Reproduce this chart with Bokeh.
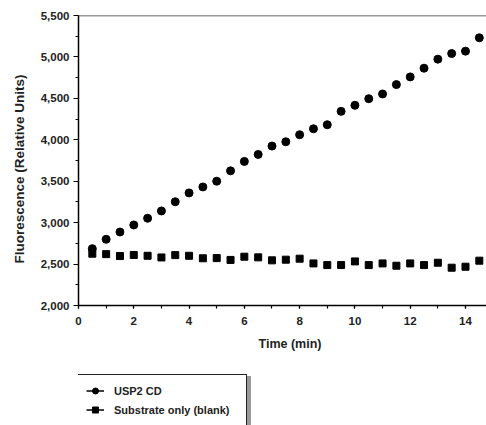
from bokeh.plotting import figure
from bokeh.models import (Legend, LegendItem, NumeralTickFormatter, SingleIntervalTicker,
                          Span, ColumnDataSource, Range1d, Title)
from bokeh.layouts import column
from bokeh.embed import file_html
from bokeh.resources import INLINE

# Data
time_min = [0.5, 1, 1.5, 2, 2.5, 3, 3.5, 4, 4.5, 5, 5.5, 6, 6.5, 7, 7.5, 8, 8.5, 9, 9.5,
            10, 10.5, 11, 11.5, 12, 12.5, 13, 13.5, 14, 14.5]
usp2_cd = [2686, 2799, 2887, 2972, 3053, 3141, 3252, 3359, 3431, 3500, 3625, 3739, 3823,
           3924, 3976, 4061, 4133, 4182, 4343, 4416, 4496, 4553, 4666, 4759, 4864, 4973,
           5041, 5070, 5231]
blank = [2625, 2620, 2597, 2610, 2600, 2580, 2608, 2600, 2570, 2572, 2550, 2589, 2581,
         2545, 2553, 2565, 2508, 2488, 2488, 2532, 2488, 2508, 2480, 2508, 2488, 2516,
         2456, 2468, 2541]
series_names = ["USP2 CD", "Substrate only (blank)"]
x_label = "Time (min)"
y_label = "Fluorescence (Relative Units)"

FONT = "Liberation Sans"
TXT = "#222222"

p = figure(width=486, height=360, output_backend="svg", toolbar_location=None,
           x_range=Range1d(0, 14.76), y_range=Range1d(2000, 5500),
           min_border_left=78, min_border_right=0, min_border_top=15, min_border_bottom=55)
p.outline_line_color = None
p.xgrid.grid_line_color = None
p.ygrid.grid_line_color = None

src_a = ColumnDataSource(dict(x=time_min, y=usp2_cd))
src_b = ColumnDataSource(dict(x=time_min, y=blank))
p.scatter("x", "y", source=src_a, marker="circle", size=8, color="black")
p.scatter("x", "y", source=src_b, marker="square", size=7, color="black")

p.add_layout(Span(location=5500, dimension="width", line_color="#333333", line_width=1.5))

for ax in (p.xaxis[0], p.yaxis[0]):
    ax.axis_line_color = "black"
    ax.axis_line_width = 1.5
    ax.major_tick_line_color = "black"
    ax.minor_tick_line_color = "black"
    ax.major_tick_line_width = 1.2
    ax.minor_tick_line_width = 1.2
    ax.major_tick_in = 0
    ax.minor_tick_in = 0
    ax.major_label_text_font = FONT
    ax.major_label_text_font_style = "bold"
    ax.major_label_text_font_size = "11.5px"
    ax.major_label_text_color = TXT

p.xaxis[0].ticker = SingleIntervalTicker(interval=2, num_minor_ticks=2)
p.xaxis[0].major_tick_out = 3
p.xaxis[0].minor_tick_out = 3
p.xaxis[0].major_label_standoff = 8

p.yaxis[0].ticker = SingleIntervalTicker(interval=500, num_minor_ticks=2)
p.yaxis[0].formatter = NumeralTickFormatter(format="0,0")
p.yaxis[0].major_tick_out = 5
p.yaxis[0].minor_tick_out = 3
p.yaxis[0].major_label_standoff = 4

# Axis titles as side-panel titles so they can be offset like the reference
xt = Title(text=x_label, align="left", offset=180, vertical_align="middle", standoff=16,
           text_font=FONT, text_font_style="bold", text_font_size="12.5px", text_color=TXT)
p.add_layout(xt, "below")
yt = Title(text=y_label, align="left", offset=42, vertical_align="middle", standoff=19,
           text_font=FONT, text_font_style="bold", text_font_size="13.5px", text_color=TXT)
p.add_layout(yt, "left")

# Legend panel (separate figure below the chart)
lf = figure(width=486, height=65, output_backend="svg", toolbar_location=None,
            x_range=Range1d(0, 1), y_range=Range1d(0, 1),
            x_axis_type=None, y_axis_type=None,
            min_border=0, min_border_left=78, min_border_right=0,
            min_border_top=0, min_border_bottom=0)
lf.outline_line_color = None
lf.xgrid.grid_line_color = None
lf.ygrid.grid_line_color = None

# legend glyph renderers: same series, out of this panel's (empty) range
la = lf.line(time_min, usp2_cd, line_color="black", line_width=1.5)
lb = lf.line(time_min, blank, line_color="black", line_width=1.5)
ma = lf.scatter(time_min, usp2_cd, marker="circle", size=8, color="black")
mb = lf.scatter(time_min, blank, marker="square", size=7, color="black")


def make_legend(loc, shadow):
    names = [" ", " "] if shadow else series_names
    items = [LegendItem(label=names[0], renderers=[la, ma]),
             LegendItem(label=names[1], renderers=[lb, mb])]
    lg = Legend(items=items, location=loc, orientation="vertical",
                glyph_width=18, glyph_height=15, label_height=15, spacing=4,
                padding=8, margin=0, label_standoff=10, label_width=124,
                label_text_font=FONT, label_text_font_style="bold",
                label_text_font_size="11px", label_text_color=TXT,
                border_line_color="#222222", border_line_width=1.5, border_line_alpha=1.0,
                background_fill_color="white", background_fill_alpha=1.0)
    if shadow:
        lg.background_fill_color = "#999999"
        lg.border_line_color = "#999999"
    return lg


lf.add_layout(make_legend((3, -3), True))
lf.add_layout(make_legend((-1, -1), False))

open("out.html", "w").write(file_html(column(p, lf), INLINE))
